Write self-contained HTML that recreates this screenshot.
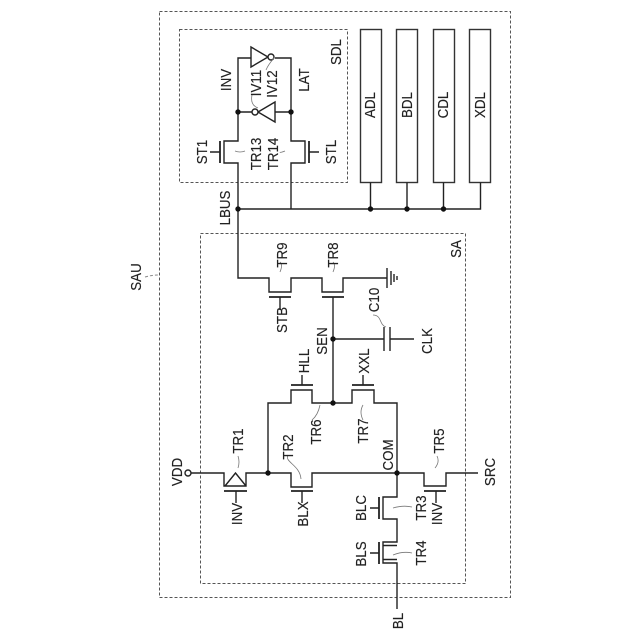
<!DOCTYPE html>
<html><head><meta charset="utf-8"><style>
html,body{margin:0;padding:0;background:#fff}
svg{display:block}
text{font-family:"Liberation Sans",sans-serif;font-size:14.5px;fill:#222;stroke:#222;stroke-width:.15;text-anchor:middle;dominant-baseline:central}
.w{fill:none;stroke:#222;stroke-width:1.4}
.g{fill:none;stroke:#222;stroke-width:1.8}
.d{fill:none;stroke:#555;stroke-width:1;stroke-dasharray:3 2}
.s{fill:none;stroke:#777;stroke-width:.8}
.b{fill:none;stroke:#333;stroke-width:1.4}
</style></head><body>
<svg width="640" height="640" viewBox="0 0 640 640" xmlns="http://www.w3.org/2000/svg">
<rect class="d" x="159.5" y="11.5" width="351" height="586"/>
<rect class="d" x="179.5" y="29.5" width="168" height="153"/>
<rect class="d" x="200.5" y="233.5" width="265" height="350"/>
<path class="d" d="M145 277Q152 275 158 275" style="stroke:#888"/>
<rect class="b" x="360.5" y="29.5" width="21" height="153"/>
<rect class="b" x="396.5" y="29.5" width="21" height="153"/>
<rect class="b" x="433.5" y="29.5" width="21" height="153"/>
<rect class="b" x="469.5" y="29.5" width="21" height="153"/>
<path class="w" d="M238 209H480.5V182.5M370.5 209V182.5M407 209V182.5M443.5 209V182.5M291 209V163H305V141H291V58H275M251 58H238V141H224V163H238V278H269V292H291V278H322V292H343V278H387"/>
<path class="g" d="M220 141V163M309 141V163M269 297H291M322 297H344M291 385H313M352 385H374M224 491H247M291 491H313M424 491H446M379 497V519M379 542V564"/>
<path class="w" d="M210 152H220M309 152H319M280 297V310M333 297V403M333 339H384M390 339H414M384 327V351M390 327V351M302 385V375M363 385V375M236 491V503M302 491V503M436 491V503M370 508H379M370 553H379"/>
<path class="w" d="M387 268V288M391 271V285M394 274V282M397 276V280"/>
<path class="w" d="M268 473V403H291V390H312V403H352V390H374V403H397V497H383V519H397V542H383V563H397V609M191 473H224V486H246V473H291V487H312V473H424V486H446V473H478M225 486L235.5 473L246 486"/>
<path class="w" d="M383 545.500H397M383 559.500H397"/>
<path class="w" d="M251 47V67L268 57ZM275 102V122L258 112ZM238 112H254M275 112H291"/>
<circle class="w" cx="271" cy="57" r="3" style="fill:#fff"/>
<circle class="w" cx="255" cy="112" r="3" style="fill:#fff"/>
<circle class="w" cx="188" cy="473" r="3" style="fill:#fff"/>
<g fill="#111"><circle cx="238" cy="112" r="2.700"/><circle cx="291" cy="112" r="2.700"/><circle cx="238" cy="209" r="2.700"/><circle cx="370.500" cy="209" r="2.700"/><circle cx="407" cy="209" r="2.700"/><circle cx="443.500" cy="209" r="2.700"/><circle cx="333" cy="339" r="2.700"/><circle cx="333" cy="403" r="2.700"/><circle cx="268" cy="473" r="2.700"/><circle cx="397" cy="473" r="2.700"/></g>
<path class="s" d="M252 95Q250 105 258 108M274 58Q268 65 266 70M235 151Q240 153 245 151M285 151Q280 153 280 152M280 272Q283 265 280 262M333 272Q336 265 333 262M373 315C382 315 379 325 386 327M320 405Q318 415 312 420M363 405Q359 412 363 420M238 468Q240 462 238 456M288 455C284 462 300 465 301 479M435 468Q440 462 437 456M393 508Q403 505 412 507M393 555Q403 551 412 553"/>
<g>
<text transform="translate(136 277) rotate(-90) scale(.92 1)">SAU</text>
<text transform="translate(336 52) rotate(-90) scale(.92 1)">SDL</text>
<text transform="translate(226 80) rotate(-90) scale(.92 1)">INV</text>
<text transform="translate(304 80) rotate(-90) scale(.92 1)">LAT</text>
<text transform="translate(256 83) rotate(-90) scale(.92 1)">IV11</text>
<text transform="translate(272 84) rotate(-90) scale(.92 1)">IV12</text>
<text transform="translate(202 152) rotate(-90) scale(.92 1)">ST1</text>
<text transform="translate(331 152) rotate(-90) scale(.92 1)">STL</text>
<text transform="translate(256 154) rotate(-90) scale(.92 1)">TR13</text>
<text transform="translate(273 154) rotate(-90) scale(.92 1)">TR14</text>
<text transform="translate(225 208) rotate(-90) scale(.92 1)">LBUS</text>
<text transform="translate(370 105) rotate(-90) scale(.92 1)">ADL</text>
<text transform="translate(407 105) rotate(-90) scale(.92 1)">BDL</text>
<text transform="translate(443 105) rotate(-90) scale(.92 1)">CDL</text>
<text transform="translate(480 105) rotate(-90) scale(.92 1)">XDL</text>
<text transform="translate(456 249) rotate(-90) scale(.92 1)">SA</text>
<text transform="translate(282 255) rotate(-90) scale(.92 1)">TR9</text>
<text transform="translate(333 255) rotate(-90) scale(.92 1)">TR8</text>
<text transform="translate(282 320) rotate(-90) scale(.92 1)">STB</text>
<text transform="translate(322 341) rotate(-90) scale(.92 1)">SEN</text>
<text transform="translate(374 300) rotate(-90) scale(.92 1)">C10</text>
<text transform="translate(427 341) rotate(-90) scale(.92 1)">CLK</text>
<text transform="translate(304 361) rotate(-90) scale(.92 1)">HLL</text>
<text transform="translate(364 361) rotate(-90) scale(.92 1)">XXL</text>
<text transform="translate(316 432) rotate(-90) scale(.92 1)">TR6</text>
<text transform="translate(363 431) rotate(-90) scale(.92 1)">TR7</text>
<text transform="translate(288 447) rotate(-90) scale(.92 1)">TR2</text>
<text transform="translate(238 441) rotate(-90) scale(.92 1)">TR1</text>
<text transform="translate(388 455) rotate(-90) scale(.92 1)">COM</text>
<text transform="translate(177 472) rotate(-90) scale(.92 1)">VDD</text>
<text transform="translate(237 514) rotate(-90) scale(.92 1)">INV</text>
<text transform="translate(303 514) rotate(-90) scale(.92 1)">BLX</text>
<text transform="translate(439 441) rotate(-90) scale(.92 1)">TR5</text>
<text transform="translate(437 514) rotate(-90) scale(.92 1)">INV</text>
<text transform="translate(490 472) rotate(-90) scale(.92 1)">SRC</text>
<text transform="translate(361 508) rotate(-90) scale(.92 1)">BLC</text>
<text transform="translate(361 554) rotate(-90) scale(.92 1)">BLS</text>
<text transform="translate(421 508) rotate(-90) scale(.92 1)">TR3</text>
<text transform="translate(421 553) rotate(-90) scale(.92 1)">TR4</text>
<text transform="translate(398 621) rotate(-90) scale(.92 1)">BL</text>
</g>
</svg>
</body></html>
